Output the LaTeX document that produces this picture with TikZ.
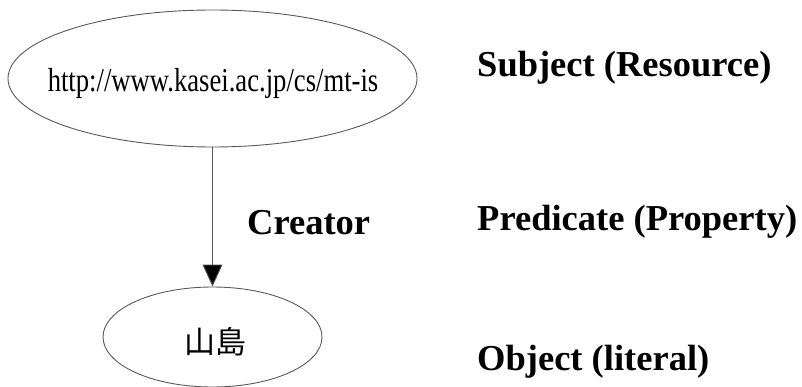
\documentclass[tikz,border=0pt]{standalone}
\usepackage{fontspec}
\setmainfont{Liberation Serif}
\newfontfamily\urlfont[FakeStretch=0.8]{Liberation Serif}
\newfontfamily\cjk{Noto Sans CJK JP}
\usetikzlibrary{shapes.geometric,arrows.meta}
\begin{document}
\begin{tikzpicture}[x=1pt,y=-1pt,
  ell/.style={draw=black!65,line width=0.9pt,ellipse,inner sep=0pt},
  lbl/.style={inner sep=0pt,anchor=base west,font=\fontsize{36.5}{40}\selectfont\bfseries},
  conn/.style={draw=black!65,line width=0.9pt,-{Triangle[length=22pt,width=20pt,fill=black]}}]
\useasboundingbox (0,0) rectangle (802,387);
\node[ell,minimum width=409pt,minimum height=137pt] (subj) at (212.5,78.5) {};
\node[inner sep=0pt,anchor=base,font=\urlfont\fontsize{33.3}{38}\selectfont] (url) at (213,92) {http://www.kasei.ac.jp/cs/mt-is};
\node[ell,minimum width=219pt,minimum height=100pt] (obj) at (212.5,337) {};
\node[inner sep=0pt,font=\cjk\fontsize{31}{36}\selectfont] (yama) at (215,342) {山島};
\draw[conn] (subj.south) -- (obj.north);
\node[lbl] (creator) at (247,234) {Creator};
\node[lbl] (s) at (477,77) {Subject (Resource)};
\node[lbl] (p) at (477,230) {Predicate (Property)};
\node[lbl] (o) at (477,370) {Object (literal)};
\end{tikzpicture}
\end{document}
